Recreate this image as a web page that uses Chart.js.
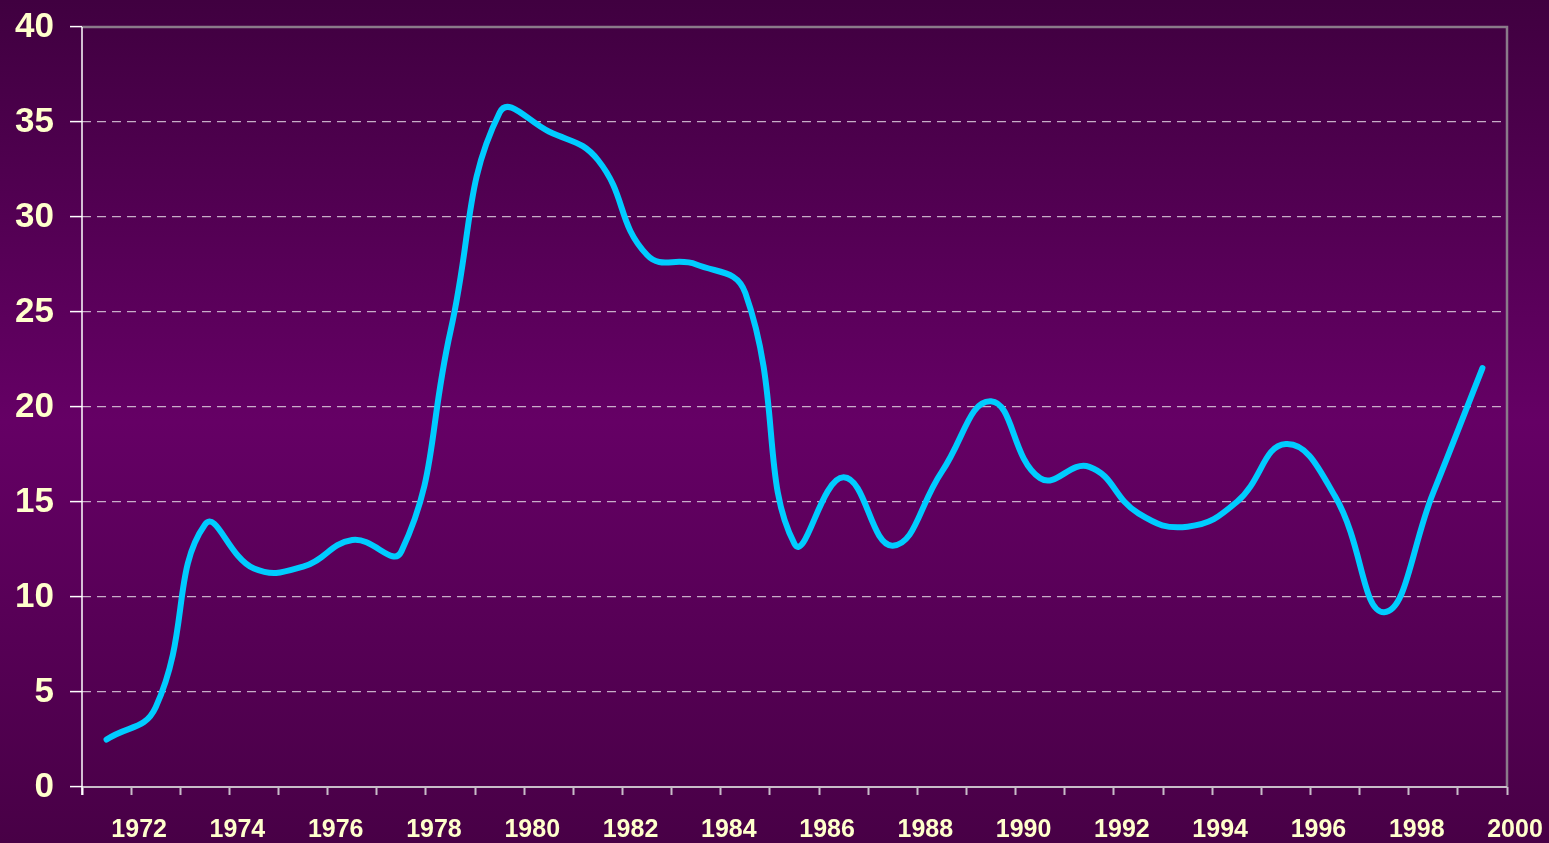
<!DOCTYPE html>
<html>
<head>
<meta charset="utf-8">
<script src="https://cdn.jsdelivr.net/npm/chart.js@4.4.1/dist/chart.umd.min.js"></script>
<style>
  html, body { margin: 0; padding: 0; background: #500050; overflow: hidden; }
  #wrap { width: 1549px; height: 843px; }
</style>
</head>
<body>
<div id="wrap"><canvas id="c" width="1549" height="843"></canvas></div>
<script>
// ---- data ----
const years = [1971.5, 1972.5, 1973.5, 1974.5, 1975.5, 1976.5, 1977.5, 1978.5, 1979.5, 1980.5,
               1981.5, 1982.5, 1983.5, 1984.5, 1985.5, 1986.5, 1987.5, 1988.5, 1989.5, 1990.5,
               1991.5, 1992.5, 1993.5, 1994.5, 1995.5, 1996.5, 1997.5, 1998.5, 1999.5];
const values = [2.5, 4.2, 13.8, 11.5, 11.6, 13.0, 12.4, 24.0, 35.5, 34.5,
                33.0, 28.0, 27.5, 26.0, 12.8, 16.3, 12.7, 16.6, 20.3, 16.25,
                16.85, 14.4, 13.7, 15.0, 18.05, 15.3, 9.2, 15.5, 22.05];
const yTickValues = [0, 5, 10, 15, 20, 25, 30, 35, 40];
const xLabelYears = [1972, 1974, 1976, 1978, 1980, 1982, 1984, 1986, 1988, 1990, 1992, 1994, 1996, 1998, 2000];

const labelColor = '#FFFFCC';
const fontFamily = '"Liberation Sans", Arial, Helvetica, sans-serif';

const bgPlugin = {
  id: 'bg',
  beforeDraw(chart) {
    const { ctx, width, height } = chart;
    const g = ctx.createLinearGradient(0, 0, 0, height);
    g.addColorStop(0, '#400040');
    g.addColorStop(0.5, '#650065');
    g.addColorStop(1, '#480046');
    ctx.save();
    ctx.fillStyle = g;
    ctx.fillRect(0, 0, width, height);
    ctx.restore();
  }
};

const framePlugin = {
  id: 'frame',
  beforeDatasetsDraw(chart) {
    const { ctx, chartArea: a } = chart;
    ctx.save();
    ctx.setLineDash([]);
    ctx.strokeStyle = '#8a7a8a';
    ctx.lineWidth = 2.5;
    ctx.beginPath();
    ctx.moveTo(a.left, a.top);
    ctx.lineTo(a.right, a.top);
    ctx.lineTo(a.right, a.bottom);
    ctx.stroke();
    ctx.strokeStyle = '#c8bcc8';
    ctx.lineWidth = 2;
    ctx.beginPath();
    ctx.moveTo(a.left, a.bottom);
    ctx.lineTo(a.right, a.bottom);
    ctx.stroke();
    ctx.strokeStyle = '#ffffff';
    ctx.lineWidth = 1.5;
    ctx.beginPath();
    ctx.moveTo(a.left, a.top);
    ctx.lineTo(a.left, a.bottom + 8);
    ctx.stroke();
    ctx.restore();
  }
};

new Chart(document.getElementById('c'), {
  type: 'line',
  data: {
    datasets: [{
      data: years.map((x, i) => ({ x: x, y: values[i] })),
      borderColor: '#00CCFF',
      borderWidth: 6,
      pointRadius: 0,
      tension: 0.45,
      borderCapStyle: 'round',
      borderJoinStyle: 'round',
      fill: false
    }]
  },
  options: {
    responsive: false,
    devicePixelRatio: 1,
    animation: false,
    layout: { padding: { top: 27, right: 42, left: 0, bottom: 0 } },
    plugins: { legend: { display: false }, tooltip: { enabled: false } },
    scales: {
      x: {
        type: 'linear',
        min: 1971,
        max: 2000,
        afterFit(s) { s.height = 56; s.paddingLeft = 0; s.paddingRight = 0; },
        border: { display: false },
        grid: {
          drawOnChartArea: false,
          drawTicks: true,
          tickLength: 8,
          tickWidth: 2,
          tickColor: (c) => (c.tick && c.tick.value === 1971 ? '#ffffff' : '#c8bcc8')
        },
        ticks: {
          stepSize: 1,
          autoSkip: false,
          maxTicksLimit: 100,
          maxRotation: 0,
          minRotation: 0,
          labelOffset: 8,
          padding: 20,
          color: labelColor,
          font: { family: fontFamily, size: 25, weight: 'bold' },
          callback: (v) => (xLabelYears.includes(v) ? String(v) : '')
        }
      },
      y: {
        min: 0,
        max: 40,
        afterFit(s) { s.width = 82; s.paddingTop = 0; s.paddingBottom = 0; },
        afterBuildTicks(s) { s.ticks = yTickValues.map(v => ({ value: v })); },
        border: { display: false, dash: [9, 6] },
        grid: {
          color: (c) => (c.tick && (c.tick.value === 0 || c.tick.value === 40) ? 'rgba(0,0,0,0)' : 'rgba(220,205,220,0.85)'),
          lineWidth: 1.2,
          drawTicks: true,
          tickLength: 12,
          tickWidth: 1.5,
          tickColor: '#ffffff',
          tickBorderDash: []
        },
        ticks: {
          padding: 16,
          color: labelColor,
          font: { family: fontFamily, size: 35, weight: 'bold' },
          callback: (v) => String(v)
        }
      }
    }
  },
  plugins: [bgPlugin, framePlugin]
});
</script>
</body>
</html>
